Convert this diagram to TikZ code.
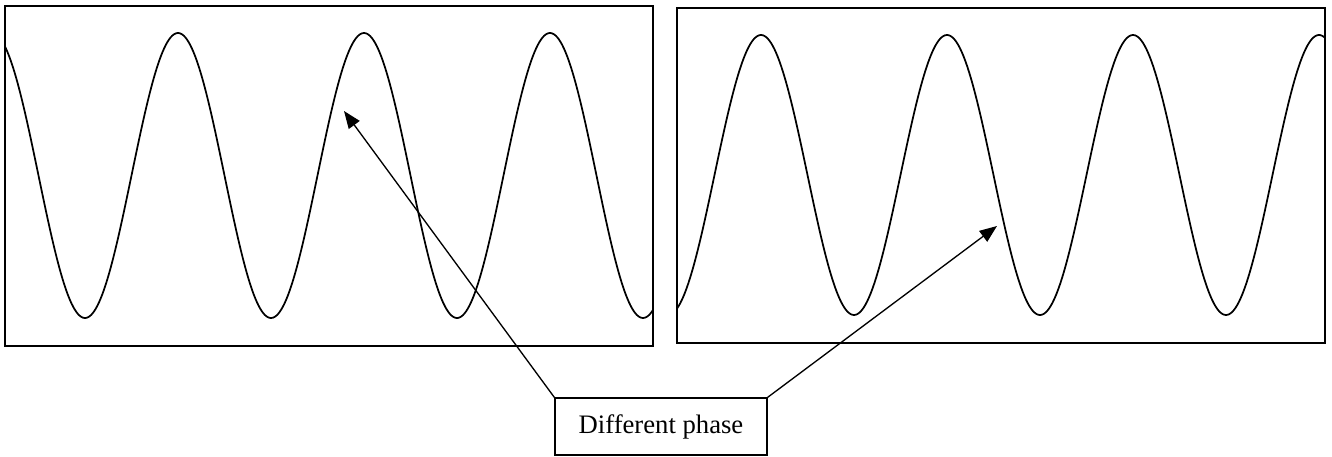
\documentclass[tikz,border=0pt]{standalone}
\usepackage{fontspec}
\setmainfont{Liberation Serif}
\usetikzlibrary{arrows.meta}
\begin{document}
\begin{tikzpicture}[x=0.75pt, y=-0.75pt,
    frame/.style={line width=1.1pt},
    wave/.style={line width=1.3pt, smooth, samples=400},
    pointer/.style={line width=1pt, -{Triangle[length=13pt, width=10pt]}},
    labelbox/.style={draw, line width=1.1pt, minimum width=159pt, minimum height=42.75pt, font=\fontsize{20}{24}\selectfont}]

        \useasboundingbox (0,0) rectangle (1332,457);

        % Left panel
        \draw[frame] (5,6) rectangle (653,346);
        \draw[wave, domain=5:653] plot (\x, {175.5+142.5*cos(1.935484*(\x-85))});

        % Right panel
        \draw[frame] (677,8) rectangle (1325,343);
        \draw[wave, domain=677:1325] plot (\x, {175+140*cos(1.935484*(\x-1226))});

        % Label and arrows
        \node[labelbox] (phase) at (661,426.5) {Different phase};
        \coordinate (tipL) at (344,111);
        \coordinate (tipR) at (997,226);
        \draw[pointer] (phase.north west) -- (tipL);
        \draw[pointer] (phase.north east) -- (tipR);

\end{tikzpicture}
\end{document}
